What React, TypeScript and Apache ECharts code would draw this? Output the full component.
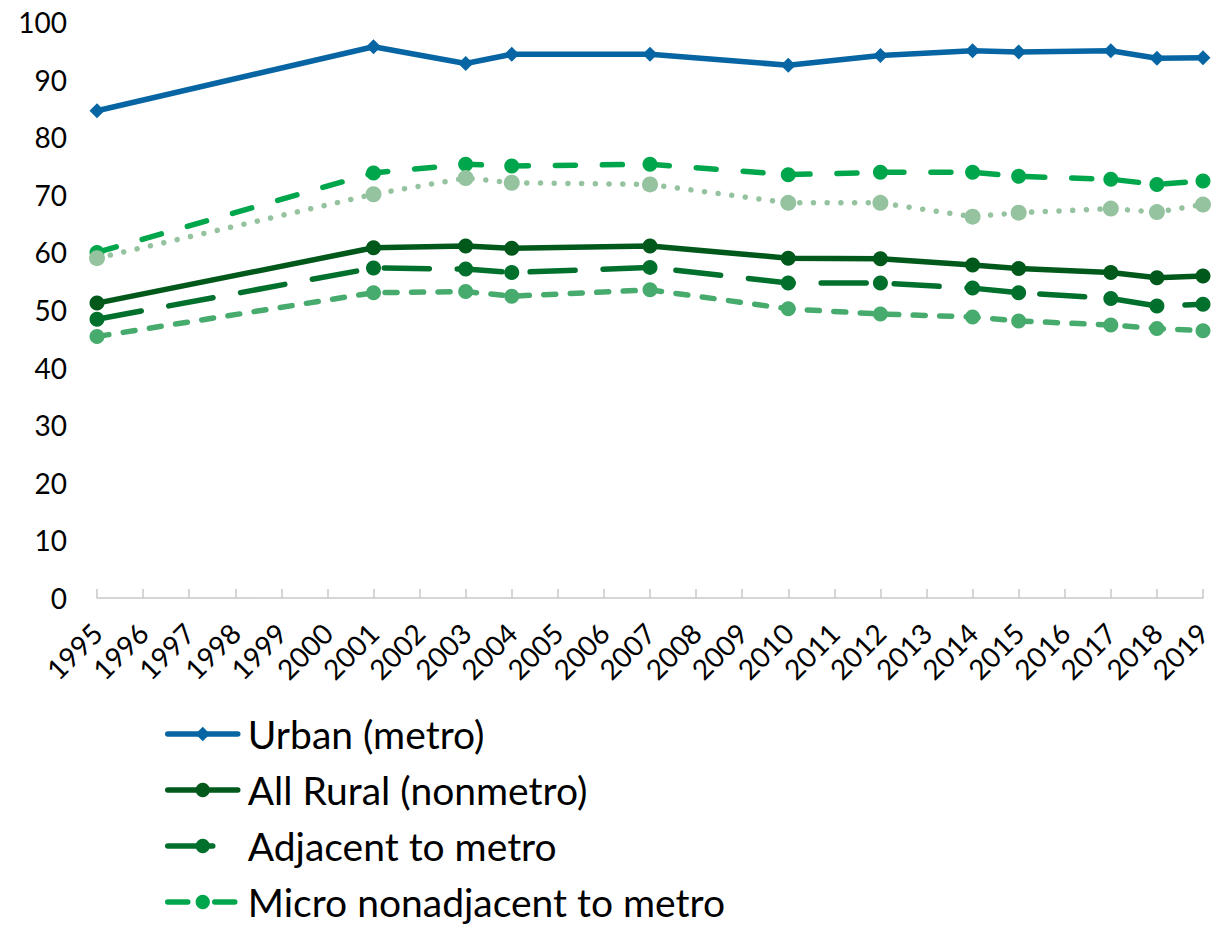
import React, { useEffect, useRef } from "react";
import * as echarts from "echarts";

const years = [
  "1995", "1996", "1997", "1998", "1999", "2000", "2001", "2002", "2003", "2004",
  "2005", "2006", "2007", "2008", "2009", "2010", "2011", "2012", "2013", "2014",
  "2015", "2016", "2017", "2018", "2019",
];
const dataYears = ["1995", "2001", "2003", "2004", "2007", "2010", "2012", "2014", "2015", "2017", "2018", "2019"];

const urban = [84.6, 95.7, 92.8, 94.4, 94.4, 92.5, 94.2, 95.0, 94.8, 95.0, 93.7, 93.8];
const allRural = [51.2, 60.8, 61.1, 60.7, 61.1, 59.0, 58.9, 57.8, 57.2, 56.5, 55.6, 55.9];
const adjacent = [48.4, 57.3, 57.1, 56.5, 57.4, 54.7, 54.7, 53.8, 53.0, 52.0, 50.7, 51.0];
const microNonadj = [60.0, 73.8, 75.3, 75.0, 75.3, 73.5, 73.9, 73.9, 73.2, 72.7, 71.8, 72.4];
const nonadjacent = [59.0, 70.1, 72.9, 72.1, 71.8, 68.6, 68.6, 66.2, 66.9, 67.6, 67.0, 68.3];
const noncoreNonadj = [45.4, 53.0, 53.2, 52.4, 53.5, 50.2, 49.3, 48.8, 48.1, 47.4, 46.8, 46.4];

const yTicks = { min: 0, max: 100, interval: 10 };

const legendNames = ["Urban (metro)", "All Rural (nonmetro)", "Adjacent to metro", "Micro nonadjacent to metro"];

const pairs = (vals: number[]) => dataYears.map((y, i) => [y, vals[i]]);

export default function App() {
  const ref = useRef<HTMLDivElement>(null);
  useEffect(() => {
    if (!ref.current) return;
    const chart = echarts.init(ref.current, null, { renderer: "svg" });
    const mk = (
      name: string,
      vals: number[],
      color: string,
      type: any,
      symbol: string,
      size: number
    ) => ({
      name,
      type: "line",
      data: pairs(vals),
      symbol,
      symbolSize: size,
      showSymbol: true,
      itemStyle: { color },
      lineStyle: { color, width: 5.5, type, cap: "round", join: "round" },
      emphasis: { disabled: true },
    });
    chart.setOption({
      animation: false,
      textStyle: { fontFamily: "Lato" },
      grid: { left: 97, right: 27, top: 22, bottom: 329, containLabel: false },
      xAxis: {
        type: "category",
        data: years,
        boundaryGap: false,
        axisLine: { show: true, lineStyle: { color: "#c8c8c8", width: 1.5 } },
        axisTick: { show: true, inside: true, length: 9, interval: 0, lineStyle: { color: "#c8c8c8", width: 1.5 } },
        axisLabel: { interval: 0, rotate: 45, margin: 30, fontSize: 28, color: "#000", fontFamily: "Lato" },
        splitLine: { show: false },
      },
      yAxis: {
        type: "value",
        min: yTicks.min,
        max: yTicks.max,
        interval: yTicks.interval,
        axisLine: { show: false },
        axisTick: { show: false },
        splitLine: { show: false },
        axisLabel: { margin: 30, fontSize: 28, color: "#000", fontFamily: "Lato" },
      },
      legend: {
        data: legendNames,
        orient: "vertical",
        left: 165,
        top: 714,
        padding: 0,
        itemWidth: 70,
        itemHeight: 18,
        itemGap: 16,
        selectedMode: false,
        lineStyle: { width: 5.5, cap: "round" },
        textStyle: { fontSize: 39, lineHeight: 40, color: "#000", fontFamily: "Lato", padding: [0, 0, 0, 5] },
      },
      series: [
        mk("Urban (metro)", urban, "#0665a2", "solid", "diamond", 15),
        mk("All Rural (nonmetro)", allRural, "#00591b", "solid", "circle", 15),
        mk("Adjacent to metro", adjacent, "#00702c", [45, 28], "circle", 15),
        mk("Micro nonadjacent to metro", microNonadj, "#00a64b", [20, 27], "circle", 15),
        mk("Nonadjacent to metro", nonadjacent, "#95c39f", [0.01, 13.7], "circle", 16),
        mk("Noncore nonadjacent to metro", noncoreNonadj, "#48ab6e", [12, 14.5], "circle", 15),
      ],
    });
    return () => chart.dispose();
  }, []);
  return (
    <div
      ref={ref}
      style={{ position: "absolute", left: 0, top: 0, width: 1230, height: 927, background: "#fff" }}
    />
  );
}
